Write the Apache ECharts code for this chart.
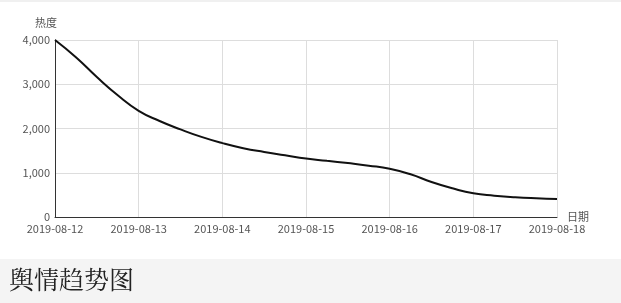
<!DOCTYPE html>
<html>
<head>
<meta charset="utf-8">
<script src="https://cdn.jsdelivr.net/npm/echarts@6/dist/echarts.min.js"></script>
<style>
html,body{margin:0;padding:0;background:#fff;}
#c{width:621px;height:303px;}
</style>
</head>
<body>
<div id="c"></div>
<script>
var days = ["2019-08-12","2019-08-13","2019-08-14","2019-08-15","2019-08-16","2019-08-17","2019-08-18"];
var hours = ["00:00","06:00","12:00","18:00"];
var heatValues = [4000, 3610, 3163, 2750,
                  2400, 2170, 1980, 1810,
                  1670, 1555, 1470, 1395,
                  1320, 1270, 1218, 1160,
                  1090, 965, 791, 648,
                  535, 482, 445, 422,
                  407];
var yTicks = [0, 1000, 2000, 3000, 4000];
var titleText = "舆情趋势图";
var yName = "热度";
var xName = "日期";

var categories = [];
days.forEach(function (d, i) {
  if (i < days.length - 1) {
    hours.forEach(function (h) { categories.push(h === "00:00" ? d : d + " " + h); });
  } else {
    categories.push(d);
  }
});

var chart = echarts.init(document.getElementById('c'), null, {renderer: 'canvas'});
var font = '"Noto Sans CJK SC", "Microsoft YaHei", sans-serif';
chart.setOption({
  animation: false,
  backgroundColor: '#fff',
  title: {
    text: titleText,
    left: 4,
    top: 262,
    textStyle: {fontSize: 25, fontWeight: 'normal', color: '#222', fontFamily: '"Noto Serif CJK SC", "AR PL UKai CN", "Noto Sans CJK SC", serif'}
  },
  graphic: [
    {type: 'rect', left: 0, top: 259, shape: {width: 621, height: 44}, style: {fill: '#f4f4f4'}, z: -10},
    {type: 'rect', left: 0, top: 0, shape: {width: 621, height: 2}, style: {fill: '#f0f0f0'}, z: -10}
  ],
  grid: {left: 55, right: 64, top: 40, bottom: 86, containLabel: false},
  xAxis: {
    type: 'category',
    data: categories,
    boundaryGap: false,
    name: xName,
    nameLocation: 'end',
    nameGap: 10,
    nameMoveOverlap: false,
    nameTextStyle: {color: '#555', fontSize: 11, fontFamily: font, align: 'left', verticalAlign: 'middle'},
    axisLine: {lineStyle: {color: '#333', width: 1}},
    axisTick: {show: false},
    axisLabel: {
      interval: 3,
      color: '#555',
      fontSize: 11,
      fontFamily: font,
      margin: 6,
      formatter: function (v) { return v.length > 10 ? '' : v; }
    },
    splitLine: {show: true, interval: 3, lineStyle: {color: '#ddd', width: 1}}
  },
  yAxis: {
    type: 'value',
    min: yTicks[0],
    max: yTicks[yTicks.length - 1],
    interval: yTicks[1] - yTicks[0],
    name: yName,
    nameGap: 12,
    nameTextStyle: {color: '#555', fontSize: 11, fontFamily: font, align: 'right', padding: [0, -2, 0, 0]},
    axisLine: {show: true, lineStyle: {color: '#333', width: 1}},
    axisTick: {show: false},
    axisLabel: {
      color: '#555',
      fontSize: 11,
      fontFamily: font,
      margin: 5,
      formatter: function (v) { return v.toLocaleString('en-US'); }
    },
    splitLine: {show: true, lineStyle: {color: '#ddd', width: 1}}
  },
  series: [{
    type: 'line',
    data: heatValues,
    smooth: true,
    showSymbol: false,
    symbol: 'none',
    lineStyle: {color: '#111', width: 2}
  }]
});
</script>
</body>
</html>
